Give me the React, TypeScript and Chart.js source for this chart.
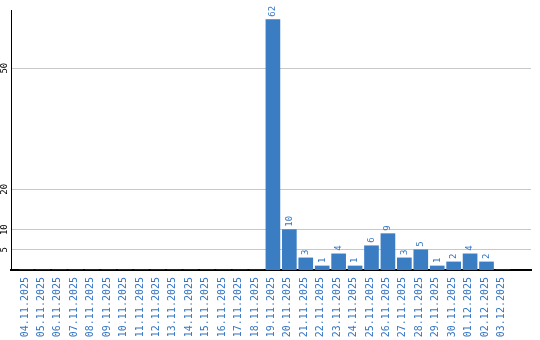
import React, { useEffect, useRef } from 'react';
import { Chart, registerables } from 'chart.js';
Chart.register(...registerables);

const categories = [
  '04.11.2025', '05.11.2025', '06.11.2025', '07.11.2025', '08.11.2025', '09.11.2025',
  '10.11.2025', '11.11.2025', '12.11.2025', '13.11.2025', '14.11.2025', '15.11.2025',
  '16.11.2025', '17.11.2025', '18.11.2025', '19.11.2025', '20.11.2025', '21.11.2025',
  '22.11.2025', '23.11.2025', '24.11.2025', '25.11.2025', '26.11.2025', '27.11.2025',
  '28.11.2025', '29.11.2025', '30.11.2025', '01.12.2025', '02.12.2025', '03.12.2025',
];
const values = [0, 0, 0, 0, 0, 0, 0, 0, 0, 0, 0, 0, 0, 0, 0, 62, 10, 3, 1, 4, 1, 6, 9, 3, 5, 1, 2, 4, 2, 0];
const yTicks = [5, 10, 20, 50];
const yMax = 64.4;

const BAR_COLOR = '#3b7dc3';
const TEXT_BLUE = '#3575c2';
const FONT = '"DejaVu Sans Mono", monospace';

const customText = {
  id: 'customText',
  afterDatasetsDraw(chart: any) {
    const ctx = chart.ctx;
    const meta = chart.getDatasetMeta(0);
    ctx.save();
    ctx.font = '9px ' + FONT;
    ctx.fillStyle = TEXT_BLUE;
    meta.data.forEach((bar: any, i: number) => {
      const v = values[i];
      if (!v) return;
      ctx.save();
      ctx.translate(bar.x, bar.y - 3);
      ctx.rotate(-Math.PI / 2);
      ctx.textAlign = 'left';
      ctx.textBaseline = 'middle';
      ctx.fillText(String(v), 0, 0);
      ctx.restore();
    });
    const y = chart.scales.y;
    ctx.fillStyle = '#000';
    yTicks.forEach((t) => {
      const py = y.getPixelForValue(t);
      ctx.save();
      ctx.translate(5, py);
      ctx.rotate(-Math.PI / 2);
      ctx.textAlign = 'center';
      ctx.textBaseline = 'middle';
      ctx.fillText(String(t), 0, 0);
      ctx.restore();
    });
    ctx.restore();
  },
};

export default function App() {
  const ref = useRef<HTMLCanvasElement>(null);
  useEffect(() => {
    if (!ref.current) return;
    const chart = new Chart(ref.current, {
      type: 'bar',
      data: {
        datasets: [
          {
            data: values.map((v, i) => ({ x: i, y: v })),
            backgroundColor: BAR_COLOR,
            barThickness: 14,
            borderWidth: 0,
          },
        ],
      },
      options: {
        animation: false,
        responsive: false,
        layout: { padding: { top: 10, right: 9, left: 0, bottom: 0 } },
        plugins: { legend: { display: false }, tooltip: { enabled: false } },
        scales: {
          x: {
            type: 'linear',
            min: -0.412,
            max: 30.18,
            afterBuildTicks: (s: any) => {
              s.ticks = categories.map((_, i) => ({ value: i }));
            },
            afterFit: (s: any) => {
              s.height = 70;
            },
            grid: { display: false, drawTicks: false },
            border: { display: true, color: '#000', width: 2 },
            ticks: {
              autoSkip: false,
              minRotation: 90,
              maxRotation: 90,
              padding: 7,
              labelOffset: -1.5,
              color: TEXT_BLUE,
              font: { family: FONT, size: 10 },
              callback: (v: any) => categories[v] ?? '',
            },
          },
          y: {
            min: 0,
            max: yMax,
            afterBuildTicks: (s: any) => {
              s.ticks = yTicks.map((v) => ({ value: v }));
            },
            afterFit: (s: any) => {
              s.width = 11;
            },
            grid: { color: '#c8c8c8', lineWidth: 1, drawTicks: false },
            border: { display: true, color: '#000', width: 1 },
            ticks: { display: false },
          },
        },
      },
      plugins: [customText],
    } as any);
    return () => chart.destroy();
  }, []);
  return (
    <div style={{ position: 'absolute', left: 0, top: 0, width: 540, height: 340 }}>
      <canvas ref={ref} width={540} height={340} />
    </div>
  );
}
